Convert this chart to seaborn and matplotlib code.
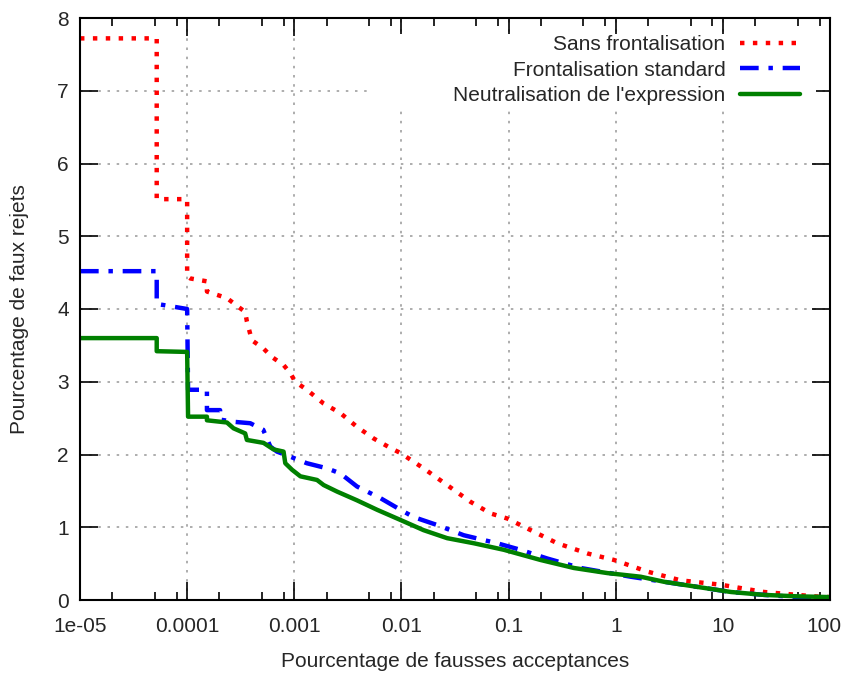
import numpy as np
import pandas as pd
import seaborn as sns
from matplotlib import pyplot as plt
from matplotlib import transforms
from matplotlib.ticker import LogLocator, NullFormatter, FixedLocator
from matplotlib.patches import Rectangle

# points (x in %, y in %)
sans_x = [1e-5, 5.2e-5, 5.2e-5, 1.0e-4, 1.0e-4, 1.07e-4, 1.53e-4, 1.53e-4, 2.35e-4, 3.13e-4,
          3.48e-4, 3.61e-4, 4.02e-4, 5.13e-4, 6.19e-4, 7.94e-4, 9.18e-4, 1.02e-3, 1.31e-3,
          1.88e-3, 2.69e-3, 3.85e-3, 5.51e-3, 7.89e-3, 9.8e-3, 1.61e-2, 2.67e-2, 4.41e-2,
          6.79e-2, 9.73e-2, 0.161, 0.285, 0.544, 0.965, 1.98, 4.05, 9.57, 24.3, 71.3, 100]
sans_y = [7.72, 7.72, 5.51, 5.51, 4.45, 4.42, 4.38, 4.24, 4.15, 4.01,
          3.96, 3.83, 3.57, 3.46, 3.34, 3.23, 3.12, 3.00, 2.89,
          2.70, 2.57, 2.38, 2.22, 2.09, 2.02, 1.81, 1.58, 1.35,
          1.19, 1.12, 0.96, 0.78, 0.64, 0.55, 0.39, 0.27, 0.21, 0.11, 0.05, 0.04]

std_x = [1e-5, 5.2e-5, 5.2e-5, 1.0e-4, 1.02e-4, 1.53e-4, 1.53e-4, 2.03e-4, 2.03e-4, 2.69e-4,
         3.88e-4, 5.13e-4, 5.97e-4, 6.89e-4, 9.18e-4, 1.31e-3, 2.02e-3, 2.69e-3, 3.85e-3,
         6.37e-3, 9.8e-3, 1.30e-2, 2.16e-2, 3.82e-2, 7.83e-2, 0.129, 0.230, 0.471, 1.38,
         2.83, 5.79, 11.9, 24.3, 49.9, 100]
std_y = [4.52, 4.52, 4.07, 4.00, 2.89, 2.89, 2.61, 2.61, 2.48, 2.45,
         2.43, 2.34, 2.11, 2.04, 1.97, 1.88, 1.81, 1.74, 1.56,
         1.40, 1.24, 1.14, 1.03, 0.89, 0.78, 0.69, 0.57, 0.44, 0.32,
         0.25, 0.18, 0.11, 0.07, 0.04, 0.02]

neutre_x = [1e-5, 5.2e-5, 5.2e-5, 1.0e-4, 1.02e-4, 1.53e-4, 1.53e-4, 2.35e-4, 2.71e-4, 3.48e-4,
            3.61e-4, 5.16e-4, 6.41e-4, 7.94e-4, 8.24e-4, 9.53e-4, 1.14e-3, 1.63e-3, 1.88e-3,
            2.51e-3, 3.85e-3, 5.93e-3, 9.8e-3, 1.61e-2, 2.67e-2, 4.74e-2, 9.04e-2, 0.199,
            0.407, 0.836, 1.71, 2.83, 5.79, 11.9, 24.3, 49.9, 100]
neutre_y = [3.60, 3.60, 3.42, 3.41, 2.52, 2.52, 2.47, 2.44, 2.36, 2.29,
            2.20, 2.16, 2.07, 2.04, 1.88, 1.79, 1.70, 1.65, 1.58,
            1.49, 1.37, 1.24, 1.10, 0.96, 0.85, 0.78, 0.69, 0.55,
            0.44, 0.37, 0.32, 0.25, 0.18, 0.11, 0.07, 0.05, 0.04]

noms = ['Sans frontalisation', 'Frontalisation standard', "Neutralisation de l'expression"]
xticks = [1e-5, 1e-4, 1e-3, 1e-2, 1e-1, 1, 10, 100]
xlabels = ['1e-05', '0.0001', '0.001', '0.01', '0.1', '1', '10', '100']

df = pd.concat([
    pd.DataFrame({'FAR': sans_x, 'FRR': sans_y, 'Methode': noms[0]}),
    pd.DataFrame({'FAR': std_x, 'FRR': std_y, 'Methode': noms[1]}),
    pd.DataFrame({'FAR': neutre_x, 'FRR': neutre_y, 'Methode': noms[2]}),
], ignore_index=True)

sns.set_theme(style="ticks")
plt.rcParams['font.family'] = ['Liberation Sans', 'DejaVu Sans']

fig = plt.figure(figsize=(8.45, 6.75), dpi=100)
ax = fig.add_axes([80/845, 75/675, 750/845, 582/675])

pallete = {noms[0]: '#ff0000', noms[1]: '#0000ff', noms[2]: '#008000'}
dashes = {noms[0]: (1, 1.9), noms[1]: (4.2, 2.2, 1, 2.2), noms[2]: ''}

sns.lineplot(data=df, x='FAR', y='FRR', hue='Methode', style='Methode',
             palette=pallete, dashes=dashes, linewidth=3.2, sort=False,
             estimator=None, legend=False, ax=ax, zorder=3)
for ln in ax.lines:
    ln.set_dash_capstyle('butt')

ax.set_xscale('log')
ax.set_xlim(1e-5, 100)
ax.set_ylim(0, 8)
ax.set_yticks(range(0, 9))
ax.xaxis.set_major_locator(FixedLocator(xticks))
ax.set_xticklabels(xlabels)
ax.xaxis.set_minor_locator(LogLocator(base=10, subs=[2, 5, 8], numticks=20))
ax.xaxis.set_minor_formatter(NullFormatter())

ax.tick_params(which='both', direction='in', top=True, right=True, labelsize=15,
               color='black', width=1.2)
ax.tick_params(axis='x', which='major', length=13, pad=12)
ax.tick_params(axis='y', which='major', length=13, pad=8)
ax.tick_params(which='minor', length=6)
for s in ax.spines.values():
    s.set_linewidth(1.5)
    s.set_color('black')
    s.set_zorder(5)

# keep the last label inside the figure
last = ax.get_xticklabels()[-1]
last.set_transform(last.get_transform() + transforms.ScaledTranslation(-6/100, 0, fig.dpi_scale_trans))

ax.grid(True, which='major', color='#a0a0a0', linestyle=(0, (1.5, 4)), linewidth=1.2)

# the key blanks the grid behind it
ax.add_patch(Rectangle((0.387, 0.845), 0.595, 0.128, transform=ax.transAxes,
                       facecolor='white', edgecolor='none', zorder=1))

ax.set_xlabel('Pourcentage de fausses acceptances', fontsize=15, labelpad=12)
ax.set_ylabel('Pourcentage de faux rejets', fontsize=15, labelpad=20)

leg = ax.legend(ax.lines, noms, loc='upper right', bbox_to_anchor=(0.98, 0.995),
                markerfirst=False, frameon=False, fontsize=15, handlelength=2.9,
                handletextpad=0.7, labelspacing=0.3, borderpad=0.2)
leg.set_zorder(4)

plt.savefig('out.png', dpi=100)
